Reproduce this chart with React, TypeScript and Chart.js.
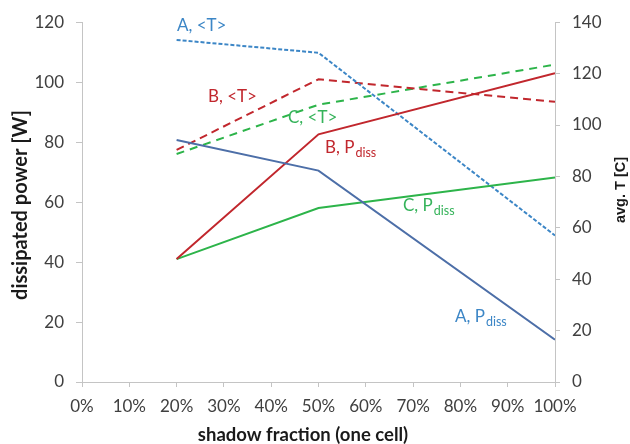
import React, { useEffect, useRef } from "react";
import { Chart, registerables } from "chart.js";

Chart.register(...registerables);

const xValues = [20, 50, 100];
const aPower = [80.7, 70.5, 14.1];
const bPower = [41, 82.6, 103];
const cPower = [41, 58, 68.2];
const aTemp = [133.1, 128.1, 57];
const bTemp = [90.3, 117.8, 109];
const cTemp = [88.7, 107.9, 123.5];

const xTicks = [0, 10, 20, 30, 40, 50, 60, 70, 80, 90, 100];

const BLUE_DARK = "#4d6fa8";
const BLUE = "#3c86c6";
const RED = "#c1272d";
const GREEN = "#2db44a";
const GREEN_TXT = "#35b35a";
const AXIS = "#c4c4c4";
const TICK_TXT = "#404040";
const FONT = "Lato, 'Open Sans', sans-serif";

const pts = (ys: number[]) => xValues.map((x, i) => ({ x, y: ys[i] }));

type Lbl = { text: string; sub?: string; x: number; y: number; color: string };
const labels: Lbl[] = [
  { text: "A, <T>", x: 177, y: 31, color: BLUE },
  { text: "B, <T>", x: 208, y: 102, color: RED },
  { text: "C, <T>", x: 288, y: 123, color: GREEN_TXT },
  { text: "B, P", sub: "diss", x: 325, y: 153, color: RED },
  { text: "C, P", sub: "diss", x: 403, y: 211, color: GREEN_TXT },
  { text: "A, P", sub: "diss", x: 455, y: 322, color: BLUE },
];

const annotPlugin = {
  id: "annot",
  afterDraw(chart: any) {
    const ctx = chart.ctx;
    ctx.save();
    ctx.textBaseline = "alphabetic";
    ctx.textAlign = "left";
    for (const l of labels) {
      ctx.fillStyle = l.color;
      ctx.font = `17px ${FONT}`;
      ctx.fillText(l.text, l.x, l.y);
      if (l.sub) {
        const w = ctx.measureText(l.text).width;
        ctx.font = `12.5px ${FONT}`;
        ctx.fillText(l.sub, l.x + w + 1, l.y + 4);
      }
    }
    // axis titles
    ctx.fillStyle = "#1a1a1a";
    ctx.font = `bold 18.5px ${FONT}`;
    ctx.textAlign = "center";
    ctx.textBaseline = "middle";
    ctx.fillText("shadow fraction (one cell)", 303, 435);
    ctx.save();
    ctx.translate(21, 205);
    ctx.rotate(-Math.PI / 2);
    ctx.font = `bold 20px ${FONT}`;
    ctx.fillText("dissipated power [W]", 0, 0);
    ctx.restore();
    ctx.save();
    ctx.font = `bold 14.5px 'Liberation Sans', Arial, sans-serif`;
    ctx.translate(621, 190);
    ctx.rotate(-Math.PI / 2);
    ctx.fillText("avg. T [C]", 0, 0);
    ctx.restore();
    ctx.restore();
  },
};

export default function App() {
  const ref = useRef<HTMLCanvasElement | null>(null);
  useEffect(() => {
    document.body.style.margin = "0";
    const canvas = ref.current!;
    const tickFont = { family: FONT, size: 17 };
    const chart = new Chart(canvas, {
      type: "line",
      data: {
        datasets: [
          { data: pts(aPower), borderColor: BLUE_DARK, borderWidth: 2, yAxisID: "y", pointRadius: 0 },
          { data: pts(bPower), borderColor: RED, borderWidth: 2, yAxisID: "y", pointRadius: 0 },
          { data: pts(cPower), borderColor: GREEN, borderWidth: 2, yAxisID: "y", pointRadius: 0 },
          { data: pts(aTemp), borderColor: BLUE, borderWidth: 2, borderDash: [4, 2], yAxisID: "y1", pointRadius: 0 },
          { data: pts(bTemp), borderColor: RED, borderWidth: 2, borderDash: [8, 5], yAxisID: "y1", pointRadius: 0 },
          { data: pts(cTemp), borderColor: GREEN, borderWidth: 2, borderDash: [8, 6], yAxisID: "y1", pointRadius: 0 },
        ],
      },
      options: {
        responsive: false,
        animation: false,
        layout: { padding: { top: 16, left: 0, right: 0, bottom: 0 } },
        plugins: { legend: { display: false }, tooltip: { enabled: false } },
        scales: {
          x: {
            type: "linear",
            min: 0,
            max: 100,
            afterBuildTicks: (s: any) => { s.ticks = xTicks.map((v) => ({ value: v })); },
            afterFit: (s: any) => { s.height = 62; },
            ticks: { callback: (v: any) => v + "%", font: tickFont, color: TICK_TXT, padding: 9, maxRotation: 0, autoSkip: false },
            grid: { drawOnChartArea: false, drawTicks: true, tickLength: 5, color: AXIS },
            border: { color: AXIS, width: 1 },
          },
          y: {
            position: "left",
            min: 0,
            max: 120,
            ticks: { stepSize: 20, font: tickFont, color: TICK_TXT, padding: 12 },
            afterFit: (s: any) => { s.width = 82; },
            grid: { drawOnChartArea: false, drawTicks: true, tickLength: 6, color: AXIS },
            border: { color: AXIS, width: 1 },
          },
          y1: {
            position: "right",
            min: 0,
            max: 140,
            ticks: { stepSize: 20, font: tickFont, color: TICK_TXT, padding: 12 },
            afterFit: (s: any) => { s.width = 75; },
            grid: { drawOnChartArea: false, drawTicks: true, tickLength: 5, color: AXIS },
            border: { color: AXIS, width: 1 },
          },
        },
      },
      plugins: [annotPlugin],
    } as any);
    return () => chart.destroy();
  }, []);
  return <canvas ref={ref} width={630} height={444} style={{ display: "block" }} />;
}
